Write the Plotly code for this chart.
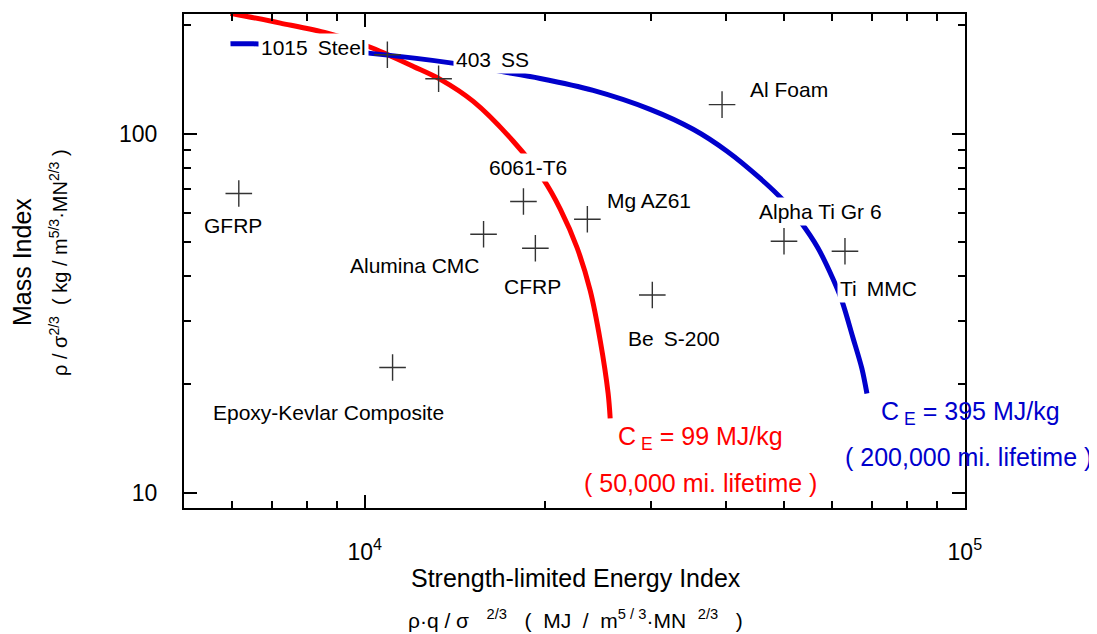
import math
import plotly.graph_objects as go

# ---------------- data ----------------
materials = ["1015 Steel", "403 SS", "Al Foam", "GFRP", "6061-T6", "Alumina CMC",
             "CFRP", "Mg AZ61", "Be S-200", "Epoxy-Kevlar Composite",
             "Alpha Ti Gr 6", "Ti MMC"]
energy_index = [10910, 13280, 39400, 6170, 18390, 15780, 19250, 23500, 30150, 11130, 49970, 63140]
mass_index = [165.7, 142.1, 120.4, 68.1, 64.7, 52.4, 47.9, 57.7, 35.5, 22.3, 50.1, 47.0]

# C_E = 99 MJ/kg (50,000 mi.) curve
ce99_x = [5976, 7238, 8667, 10143, 10909, 12053, 13366, 15168, 17683, 19840,
          21180, 22600, 23760, 24690, 25450, 25650]
ce99_y = [216.3, 203.1, 190.3, 174.8, 166.1, 153.8, 141.6, 122.9, 95.2, 74.65,
          61.6, 48.0, 36.5, 26.5, 18.87, 16.09]

# C_E = 395 MJ/kg (200,000 mi.) curve
ce395_x = [5976, 6527, 10143, 13996, 16823, 19610, 24030, 29900, 35260, 40160, 45570,
           49770, 53130, 56920, 60290, 62410, 65100, 67380, 68690]
ce395_y = [177.8, 177.8, 167.5, 157.1, 149.0, 142.4, 131.9, 116.8, 102.8, 89.3, 75.1,
           65.27, 57.06, 48.0, 39.4, 34.2, 27.0, 22.14, 18.87]

x_tick_vals = [1e4, 1e5]
x_tick_text = ["10<sup>4</sup>", "10<sup>5</sup>"]
x_minor_vals = [6000, 7000, 8000, 9000, 20000, 30000, 40000, 50000, 60000, 70000, 80000, 90000]
y_tick_vals = [10, 100]
y_tick_text = ["10", "100"]
y_minor_vals = [20, 30, 40, 50, 60, 70, 80, 90, 200]

# ---------------- style / layout ----------------
FONT = "Liberation Sans, Arial, Helvetica, sans-serif"
RED = "#ff0000"
BLUE = "#0000cc"
TS = " \u2009"  # slightly wider word gap used in some labels

# label placements (data coordinates of the label centre)
label_pos = {
    "1015 Steel": (8231, 173.7),
    "403 SS": (16320, 160.9),
    "Al Foam": (51030, 132.7),
    "GFRP": (6045, 55.3),
    "6061-T6": (18730, 80.2),
    "Alumina CMC": (12120, 42.8),
    "CFRP": (19055, 37.6),
    "Mg AZ61": (29785, 64.9),
    "Be S-200": (32710, 26.8),
    "Epoxy-Kevlar Composite": (8718, 16.7),
    "Alpha Ti Gr 6": (57460, 60.8),
    "Ti MMC": (71930, 37.1),
}
wide_gap = {"1015 Steel", "403 SS", "Be S-200", "Ti MMC"}

fig = go.Figure()
fig.add_trace(go.Scatter(x=ce99_x, y=ce99_y, mode="lines",
                         line=dict(color=RED, width=5, shape="spline", smoothing=0.9),
                         hoverinfo="skip"))
fig.add_trace(go.Scatter(x=ce395_x, y=ce395_y, mode="lines",
                         line=dict(color=BLUE, width=5, shape="spline", smoothing=0.9),
                         hoverinfo="skip"))
fig.add_trace(go.Scatter(x=energy_index, y=mass_index, mode="markers", text=materials,
                         marker=dict(symbol="cross-thin", size=19,
                                     line=dict(color="#333333", width=1.4))))

annotations = []
for name in materials:
    lx, ly = label_pos[name]
    shown = name.replace(" ", TS) if name in wide_gap else name
    annotations.append(dict(
        x=math.log10(lx), y=math.log10(ly), xref="x", yref="y",
        text=shown, showarrow=False, xanchor="center", yanchor="middle",
        font=dict(family=FONT, size=21, color="black"),
        bgcolor="white", borderpad=2))

# plot area in reference pixels (used for placing paper-referenced text)
L, R, T, B = 184, 965, 12, 508
OFF = 8  # page body margin added by the browser
def px2paper(px, py):
    return (px - L) / (R - L), (B - py) / (B - T)

ce_labels = [
    ("C\u2009<sub>E</sub> = 99 MJ/kg", 700, 438, RED),
    ("( 50,000 mi. lifetime )", 700, 483, RED),
    ("C\u2009<sub>E</sub> = 395 MJ/kg", 970, 413, BLUE),
    ("( 200,000 mi. lifetime )", 969, 457, BLUE),
]
for txt, px, py, col in ce_labels:
    xp, yp = px2paper(px, py)
    annotations.append(dict(x=xp, y=yp, xref="paper", yref="paper", text=txt,
                            showarrow=False, xanchor="center", yanchor="middle",
                            font=dict(family=FONT, size=25, color=col)))

# axis titles
xp, yp = px2paper(576, 578)
annotations.append(dict(x=xp, y=yp, xref="paper", yref="paper",
                        text="Strength-limited Energy Index", showarrow=False,
                        xanchor="center", yanchor="middle",
                        font=dict(family=FONT, size=25, color="black")))
xp, yp = px2paper(575, 619)
annotations.append(dict(x=xp, y=yp, xref="paper", yref="paper",
                        text="ρ·q / σ \u00a0 <sup>2/3</sup> \u00a0 ( \u00a0MJ \u00a0/ \u00a0m<sup>5 / 3</sup>·MN \u00a0<sup>2/3</sup> \u00a0 )",
                        showarrow=False, xanchor="center", yanchor="middle",
                        font=dict(family=FONT, size=21, color="black")))
xp, yp = px2paper(22, 261)
annotations.append(dict(x=xp, y=yp, xref="paper", yref="paper", text="Mass Index",
                        textangle=-90, showarrow=False, xanchor="center", yanchor="middle",
                        font=dict(family=FONT, size=25, color="black")))
xp, yp = px2paper(59, 262)
annotations.append(dict(x=xp, y=yp, xref="paper", yref="paper",
                        text="ρ / σ<sup>2/3</sup> \u00a0( kg / m<sup>5/3</sup>·MN<sup>2/3</sup> )",
                        textangle=-90, showarrow=False, xanchor="center", yanchor="middle",
                        font=dict(family=FONT, size=20, color="black")))

axis_common = dict(type="log", showline=True, linewidth=2, linecolor="black",
                   mirror="allticks", ticks="inside", ticklen=13, tickwidth=2,
                   tickcolor="black", showgrid=False, zeroline=False,
                   tickfont=dict(family=FONT, size=23, color="black"))

W, H = 1097 - OFF, 634 - OFF
fig.update_layout(
    width=W, height=H,
    margin=dict(l=L - OFF, r=W - (R - OFF), t=T - OFF, b=H - (B - OFF)),
    paper_bgcolor="white", plot_bgcolor="white",
    showlegend=False,
    xaxis=dict(**axis_common, range=[math.log10(5000), 5.0003],
               tickmode="array", tickvals=x_tick_vals, ticktext=x_tick_text,
               ticklabelstandoff=22,
               minor=dict(tickmode="array", tickvals=x_minor_vals, ticks="inside",
                          ticklen=7, tickwidth=2, tickcolor="black", showgrid=False)),
    yaxis=dict(**axis_common, range=[0.957, 2.333],
               tickmode="array", tickvals=y_tick_vals, ticktext=y_tick_text,
               ticklabelstandoff=20,
               minor=dict(tickmode="array", tickvals=y_minor_vals, ticks="inside",
                          ticklen=7, tickwidth=2, tickcolor="black", showgrid=False)),
    annotations=annotations,
)

fig.write_html("out.html")
